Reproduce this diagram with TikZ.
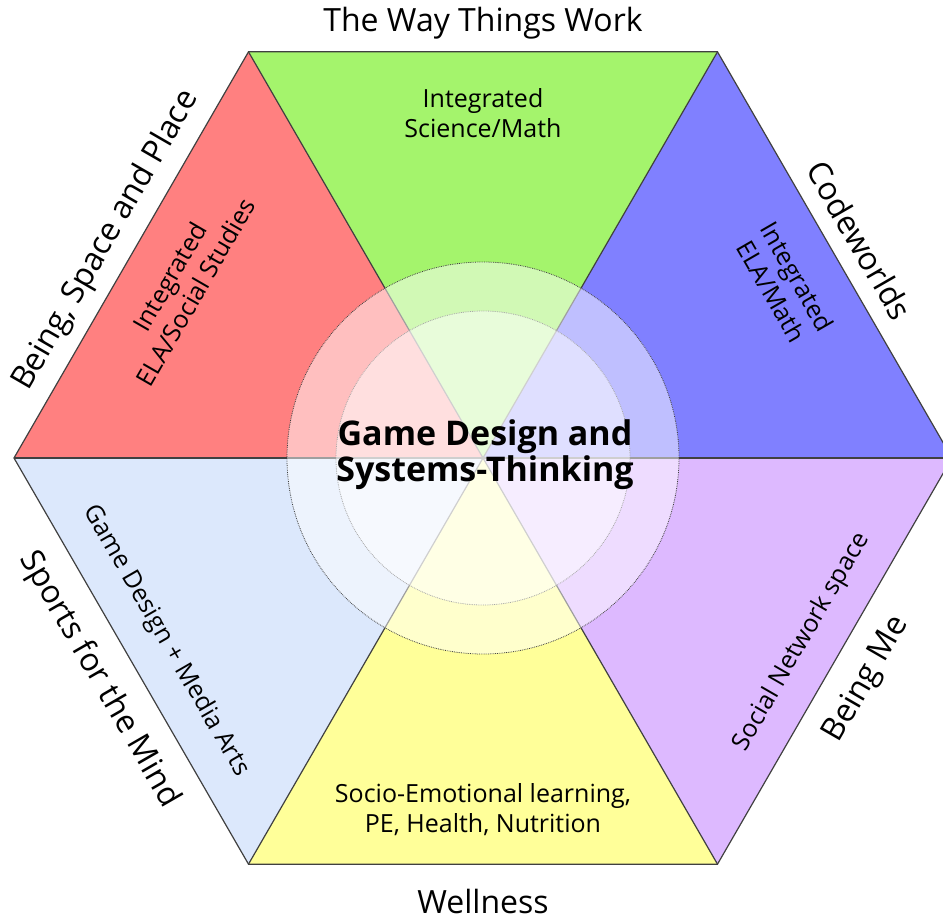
\documentclass[tikz,border=0pt]{standalone}
\usepackage{fontspec}
\setmainfont{Open Sans}
\definecolor{segred}{HTML}{FF8080}
\definecolor{seggreen}{HTML}{A4F46C}
\definecolor{segblue}{HTML}{8080FF}
\definecolor{segviolet}{HTML}{DDB9FF}
\definecolor{segyellow}{HTML}{FFFF99}
\definecolor{segsky}{HTML}{DCE8FC}
\begin{document}
\begin{tikzpicture}[x=1pt,y=1pt,
	edge/.style={draw=black!75, line width=1.2pt},
	ring/.style={fill=white, fill opacity=0.5, draw=black!75, densely dotted, line width=0.8pt},
	outlabel/.style={font=\fontsize{32}{36}\selectfont},
	inlabel/.style={font=\fontsize{25}{30}\selectfont, align=center}]

		\useasboundingbox (-483,-462) rectangle (460,458);
		\clip (-483,-462) rectangle (460,458);

		\coordinate (c) at (0,0);
		\foreach \i in {0,...,5}
		\coordinate (v\i) at (\i*60:469);

		% Sectors
		\fill[segblue] (c) -- (v0) -- (v1) -- cycle;
		\fill[seggreen] (c) -- (v1) -- (v2) -- cycle;
		\fill[segred] (c) -- (v2) -- (v3) -- cycle;
		\fill[segsky] (c) -- (v3) -- (v4) -- cycle;
		\fill[segyellow] (c) -- (v4) -- (v5) -- cycle;
		\fill[segviolet] (c) -- (v5) -- (v0) -- cycle;
		\foreach \i in {0,...,5}
		\draw[edge] (c) -- (v\i);
		\draw[edge, line join=miter] (v0) -- (v1) -- (v2) -- (v3) -- (v4) -- (v5) -- cycle;

		% Rings
		\draw[ring] (c) circle (196pt);
		\draw[ring, draw=black!35] (c) circle (147pt);

		% Outer labels
		\node[outlabel] (work) at (90:435) {The Way Things Work};
		\node[outlabel, rotate=60] (place) at (150:435) {Being, Space and Place};
		\node[outlabel, rotate=-60] (code) at (30:435) {Codeworlds};
		\node[outlabel, rotate=-60] (sports) at (210:443) {Sports for the Mind};
		\node[outlabel] (well) at (270:443) {Wellness};
		\node[outlabel, rotate=60] (me) at (330:443) {Being Me};

		% Inner labels
		\node[inlabel] (sci) at (90:345) {Integrated\\Science/Math};
		\node[inlabel, rotate=60] (ela) at (150:347) {Integrated\\ELA/Social Studies};
		\node[inlabel, rotate=-60] (elam) at (30:348) {Integrated\\ELA/Math};
		\node[inlabel, rotate=-60] (media) at (210:366) {Game Design + Media Arts};
		\node[inlabel, rotate=60] (social) at (330:368) {Social Network space};
		\node[inlabel] (socio) at (270:352) {Socio-Emotional learning,\\PE, Health, Nutrition};

		\node[font=\bfseries\fontsize{34}{36}\selectfont, align=center] (core) at (2,3) {Game Design and\\Systems-Thinking};
\end{tikzpicture}
\end{document}
